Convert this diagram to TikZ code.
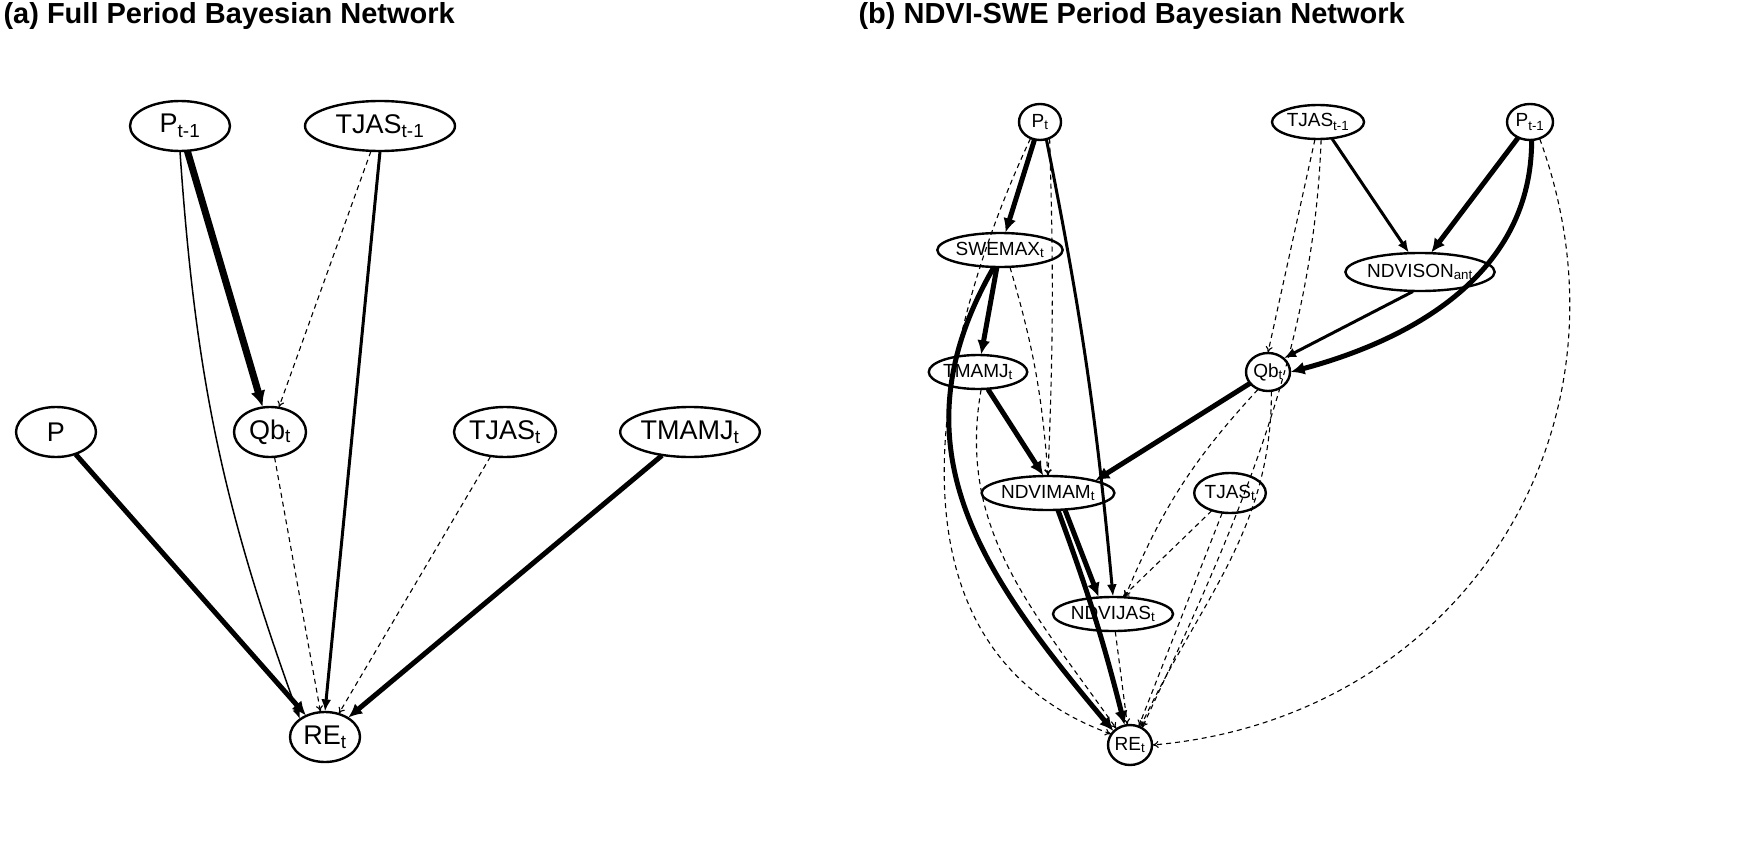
\documentclass[tikz,border=0pt]{standalone}
\usepackage{fontspec}
\setmainfont{Liberation Sans}
\usetikzlibrary{shapes.geometric,arrows.meta}
\newcommand{\sbs}[1]{\textsubscript{#1}}
\begin{document}
\begin{tikzpicture}[x=1pt,y=-1pt,scale=0.5,every node/.append style={transform shape},
  nd/.style={draw,ellipse,line width=1.2pt,inner sep=0pt,font=\fontsize{27}{27}\selectfont},
  ns/.style={draw,ellipse,line width=1.2pt,inner sep=0pt,font=\fontsize{19}{19}\selectfont},
  vthick/.style={line width=3.5pt,-{Latex[length=8pt,width=7.5pt]}},
  thick5/.style={line width=2.5pt,-{Latex[length=7pt,width=6.5pt]}},
  med/.style={line width=1.5pt,-{Latex[length=6pt,width=5pt]}},
  thin/.style={line width=0.75pt,-{Latex[length=5pt,width=4pt]}},
  dsh/.style={line width=0.55pt,dash pattern=on 2.5pt off 2pt,-{To[length=3pt,width=3.5pt]}},
  title/.style={anchor=west,font=\bfseries\fontsize{29}{29}\selectfont}]
\useasboundingbox (0,0) rectangle (1749,856);
\node[title] (ta) at (0,16) {(a) Full Period Bayesian Network};
\node[title] (tb) at (855,16) {(b) NDVI-SWE Period Bayesian Network};
% left
\node[nd,minimum width=100pt,minimum height=50pt] (a1) at (180,126) {P\sbs{t-1}};
\node[nd,minimum width=150pt,minimum height=50pt] (a2) at (380,126) {TJAS\sbs{t-1}};
\node[nd,minimum width=80pt,minimum height=50pt] (a3) at (56,432) {P};
\node[nd,minimum width=72pt,minimum height=50pt] (a4) at (270,432) {Qb\sbs{t}};
\node[nd,minimum width=102pt,minimum height=50pt] (a5) at (505,432) {TJAS\sbs{t}};
\node[nd,minimum width=134pt,minimum height=50pt] (a6) at (690,432) {TMAMJ\sbs{t}};
\node[nd,minimum width=70pt,minimum height=50pt] (a7) at (325,737) {RE\sbs{t}};
\draw[vthick] (a1) -- (a4);
\draw[thin] (a1.south) to[bend right=8] (a7.north west);
\draw[dsh] (a2) -- (a4);
\draw[med] (a2.south) -- (a7.north);
\draw[thick5] (a3) -- (a7);
\draw[dsh] (a4) -- (a7);
\draw[dsh] (a5) -- (a7);
\draw[thick5] (a6) -- (a7);
% right
\node[ns,minimum width=42pt,minimum height=36pt] (pt) at (1040,122) {P\sbs{t}};
\node[ns,minimum width=92pt,minimum height=34pt] (tj1) at (1318,122) {TJAS\sbs{t-1}};
\node[ns,minimum width=46pt,minimum height=36pt] (p1) at (1530,122) {P\sbs{t-1}};
\node[ns,minimum width=106pt,minimum height=34pt] (sw) at (1000,250) {SWEMAX\sbs{t}};
\node[ns,minimum width=132pt,minimum height=38pt] (ns) at (1420,272) {NDVISON\sbs{ant}};
\node[ns,minimum width=72pt,minimum height=34pt] (tm) at (978,372) {TMAMJ\sbs{t}};
\node[ns,minimum width=44pt,minimum height=38pt] (qb) at (1268,372) {Qb\sbs{t}};
\node[ns,minimum width=132pt,minimum height=34pt] (nm) at (1048,493) {NDVIMAM\sbs{t}};
\node[ns,minimum width=54pt,minimum height=40pt] (tj) at (1230,493) {TJAS\sbs{t}};
\node[ns,minimum width=120pt,minimum height=34pt] (nj) at (1113,614) {NDVIJAS\sbs{t}};
\node[ns,minimum width=44pt,minimum height=40pt] (re) at (1130,745) {RE\sbs{t}};
\draw[thick5] (pt) -- (sw);
\draw[med] (pt.-70) to[bend left=3] (nj.north);
\draw[dsh] (pt.240) to[out=245,in=160,looseness=1.05] (re.150);
\draw[dsh] (pt.-60) to[bend left=2] (nm.north);
\draw[thick5] (sw) -- (tm);
\draw[thick5] (sw.250) to[out=240,in=130,looseness=1.1] (re.140);
\draw[dsh] (sw.-60) to[bend left=6] (nm.north);
\draw[thick5] (tm.-60) -- (nm.105);
\draw[dsh] (tm.-80) to[out=260,in=125] (re.130);
\draw[med] (tj1.-50) -- (ns.120);
\draw[dsh] (tj1.-100) -- (qb.north);
\draw[dsh] (tj1.-80) to[out=268,in=65,looseness=0.9] (re.55);
\draw[thick5] (p1) -- (ns.60);
\draw[thick5] (p1.-85) to[out=270,in=15,looseness=1.0] (qb.east);
\draw[dsh] (p1.-60) to[out=290,in=5,looseness=1.1] (re.east);
\draw[med] (ns.-110) -- (qb.north east);
\draw[thick5] (qb) -- (nm.north east);
\draw[dsh] (qb.240) to[bend right=10] (nj.55);
\draw[dsh] (qb.-80) to[out=270,in=65] (re.60);
\draw[thick5] (nm.-60) to[bend left=3] (re.105);
\draw[thick5] (nm.-45) -- (nj.130);
\draw[dsh] (tj) -- (nj.60);
\draw[dsh] (tj) -- (re.65);
\draw[dsh] (nj) -- (re);
\end{tikzpicture}
\end{document}
